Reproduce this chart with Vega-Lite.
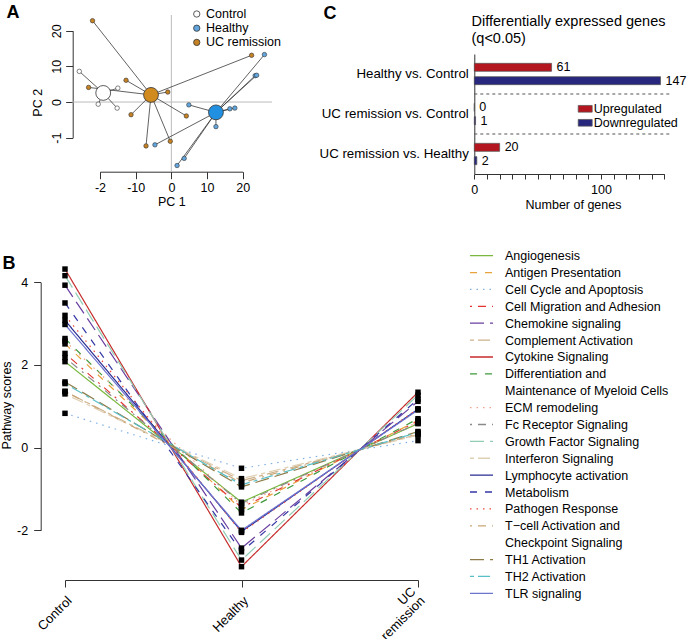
{
  "$schema": "https://vega.github.io/schema/vega-lite/v6.json",
  "width": 689,
  "height": 639,
  "autosize": {"type": "none"},
  "padding": 0,
  "background": "white",
  "config": {
    "font": "Liberation Sans",
    "view": {"stroke": null},
    "axis": {"grid": false, "domainColor": "#333333", "tickColor": "#333333", "labelColor": "#000000", "titleColor": "#000000", "labelFont": "Liberation Sans", "titleFont": "Liberation Sans", "labelFontSize": 12.5, "titleFontSize": 12.5, "titleFontWeight": "normal", "domainWidth": 1, "tickWidth": 1, "labelFlush": false, "labelOverlap": false},
    "legend": {"labelFont": "Liberation Sans", "labelFontSize": 12.5, "labelColor": "#000000"}
  },
  "datasets": {
    "pcaSamples": [
      {"group": "Control", "pc1": -25.8, "pc2": 8.6, "cx": -19.1, "cy": 2.55},
      {"group": "Control", "pc1": -15.0, "pc2": 3.9, "cx": -19.1, "cy": 2.55},
      {"group": "Control", "pc1": -20.5, "pc2": -0.6, "cx": -19.1, "cy": 2.55},
      {"group": "Control", "pc1": -15.2, "pc2": -1.7, "cx": -19.1, "cy": 2.55},
      {"group": "UC remission", "pc1": -22.1, "pc2": 22.8, "cx": -5.7, "cy": 2.0},
      {"group": "UC remission", "pc1": -23.2, "pc2": 4.1, "cx": -5.7, "cy": 2.0},
      {"group": "UC remission", "pc1": -12.7, "pc2": 6.1, "cx": -5.7, "cy": 2.0},
      {"group": "UC remission", "pc1": -11.3, "pc2": -3.55, "cx": -5.7, "cy": 2.0},
      {"group": "UC remission", "pc1": -1.0, "pc2": 2.8, "cx": -5.7, "cy": 2.0},
      {"group": "UC remission", "pc1": 4.2, "pc2": -3.9, "cx": -5.7, "cy": 2.0},
      {"group": "UC remission", "pc1": -0.3, "pc2": -11.0, "cx": -5.7, "cy": 2.0},
      {"group": "UC remission", "pc1": -7.1, "pc2": -12.3, "cx": -5.7, "cy": 2.0},
      {"group": "UC remission", "pc1": 22.5, "pc2": 13.1, "cx": -5.7, "cy": 2.0},
      {"group": "Healthy", "pc1": 26.1, "pc2": 13.3, "cx": 12.5, "cy": -2.9},
      {"group": "Healthy", "pc1": 23.5, "pc2": 7.4, "cx": 12.5, "cy": -2.9},
      {"group": "Healthy", "pc1": 23.9, "pc2": 7.5, "cx": 12.5, "cy": -2.9},
      {"group": "Healthy", "pc1": 4.9, "pc2": -0.8, "cx": 12.5, "cy": -2.9},
      {"group": "Healthy", "pc1": 16.4, "pc2": -1.9, "cx": 12.5, "cy": -2.9},
      {"group": "Healthy", "pc1": 17.8, "pc2": -1.7, "cx": 12.5, "cy": -2.9},
      {"group": "Healthy", "pc1": 12.5, "pc2": -6.9, "cx": 12.5, "cy": -2.9},
      {"group": "Healthy", "pc1": 3.6, "pc2": -15.8, "cx": 12.5, "cy": -2.9},
      {"group": "Healthy", "pc1": 1.6, "pc2": -17.8, "cx": 12.5, "cy": -2.9},
      {"group": "Healthy", "pc1": -4.6, "pc2": -12.0, "cx": 12.5, "cy": -2.9}
    ],
    "pcaCentroids": [
      {"group": "Control", "pc1": -19.1, "pc2": 2.55},
      {"group": "Healthy", "pc1": 12.5, "pc2": -2.9},
      {"group": "UC remission", "pc1": -5.7, "pc2": 2.0}
    ],
    "scores": [
      {"pathway": "Angiogenesis", "condition": "Control", "score": 2.08},
      {"pathway": "Angiogenesis", "condition": "Healthy", "score": -1.32},
      {"pathway": "Angiogenesis", "condition": "UC remission", "score": 0.58},
      {"pathway": "Antigen Presentation", "condition": "Control", "score": 2.51},
      {"pathway": "Antigen Presentation", "condition": "Healthy", "score": -1.5},
      {"pathway": "Antigen Presentation", "condition": "UC remission", "score": 0.66},
      {"pathway": "Cell Cycle and Apoptosis", "condition": "Control", "score": 0.83},
      {"pathway": "Cell Cycle and Apoptosis", "condition": "Healthy", "score": -0.5},
      {"pathway": "Cell Cycle and Apoptosis", "condition": "UC remission", "score": 0.17},
      {"pathway": "Cell Migration and Adhesion", "condition": "Control", "score": 2.28},
      {"pathway": "Cell Migration and Adhesion", "condition": "Healthy", "score": -1.45},
      {"pathway": "Cell Migration and Adhesion", "condition": "UC remission", "score": 0.64},
      {"pathway": "Chemokine signaling", "condition": "Control", "score": 3.93},
      {"pathway": "Chemokine signaling", "condition": "Healthy", "score": -2.43},
      {"pathway": "Chemokine signaling", "condition": "UC remission", "score": 1.12},
      {"pathway": "Complement Activation", "condition": "Control", "score": 1.36},
      {"pathway": "Complement Activation", "condition": "Healthy", "score": -0.8},
      {"pathway": "Complement Activation", "condition": "UC remission", "score": 0.32},
      {"pathway": "Cytokine Signaling", "condition": "Control", "score": 4.32},
      {"pathway": "Cytokine Signaling", "condition": "Healthy", "score": -2.88},
      {"pathway": "Cytokine Signaling", "condition": "UC remission", "score": 1.34},
      {"pathway": "Differentiation and Maintenance of Myeloid Cells", "condition": "Control", "score": 2.64},
      {"pathway": "Differentiation and Maintenance of Myeloid Cells", "condition": "Healthy", "score": -1.58},
      {"pathway": "Differentiation and Maintenance of Myeloid Cells", "condition": "UC remission", "score": 0.7},
      {"pathway": "ECM remodeling", "condition": "Control", "score": 2.58},
      {"pathway": "ECM remodeling", "condition": "Healthy", "score": -1.4},
      {"pathway": "ECM remodeling", "condition": "UC remission", "score": 0.62},
      {"pathway": "Fc Receptor Signaling", "condition": "Control", "score": 2.18},
      {"pathway": "Fc Receptor Signaling", "condition": "Healthy", "score": -1.35},
      {"pathway": "Fc Receptor Signaling", "condition": "UC remission", "score": 0.59},
      {"pathway": "Growth Factor Signaling", "condition": "Control", "score": 4.16},
      {"pathway": "Growth Factor Signaling", "condition": "Healthy", "score": -2.72},
      {"pathway": "Growth Factor Signaling", "condition": "UC remission", "score": 1.27},
      {"pathway": "Interferon Signaling", "condition": "Control", "score": 1.3},
      {"pathway": "Interferon Signaling", "condition": "Healthy", "score": -0.75},
      {"pathway": "Interferon Signaling", "condition": "UC remission", "score": 0.3},
      {"pathway": "Lymphocyte activation", "condition": "Control", "score": 3.08},
      {"pathway": "Lymphocyte activation", "condition": "Healthy", "score": -2.03},
      {"pathway": "Lymphocyte activation", "condition": "UC remission", "score": 0.93},
      {"pathway": "Metabolism", "condition": "Control", "score": 3.5},
      {"pathway": "Metabolism", "condition": "Healthy", "score": -2.52},
      {"pathway": "Metabolism", "condition": "UC remission", "score": 1.17},
      {"pathway": "Pathogen Response", "condition": "Control", "score": 3.2},
      {"pathway": "Pathogen Response", "condition": "Healthy", "score": -2.05},
      {"pathway": "Pathogen Response", "condition": "UC remission", "score": 0.94},
      {"pathway": "T−cell Activation and Checkpoint Signaling", "condition": "Control", "score": 1.36},
      {"pathway": "T−cell Activation and Checkpoint Signaling", "condition": "Healthy", "score": -0.85},
      {"pathway": "T−cell Activation and Checkpoint Signaling", "condition": "UC remission", "score": 0.34},
      {"pathway": "TH1 Activation", "condition": "Control", "score": 1.59},
      {"pathway": "TH1 Activation", "condition": "Healthy", "score": -0.95},
      {"pathway": "TH1 Activation", "condition": "UC remission", "score": 0.39},
      {"pathway": "TH2 Activation", "condition": "Control", "score": 1.55},
      {"pathway": "TH2 Activation", "condition": "Healthy", "score": -0.9},
      {"pathway": "TH2 Activation", "condition": "UC remission", "score": 0.37},
      {"pathway": "TLR signaling", "condition": "Control", "score": 2.98},
      {"pathway": "TLR signaling", "condition": "Healthy", "score": -2.0},
      {"pathway": "TLR signaling", "condition": "UC remission", "score": 0.91}
    ],
    "pathways": [
      {"pathway": "Angiogenesis", "label": "Angiogenesis"},
      {"pathway": "Antigen Presentation", "label": "Antigen Presentation"},
      {"pathway": "Cell Cycle and Apoptosis", "label": "Cell Cycle and Apoptosis"},
      {"pathway": "Cell Migration and Adhesion", "label": "Cell Migration and Adhesion"},
      {"pathway": "Chemokine signaling", "label": "Chemokine signaling"},
      {"pathway": "Complement Activation", "label": "Complement Activation"},
      {"pathway": "Cytokine Signaling", "label": "Cytokine Signaling"},
      {"pathway": "Differentiation and Maintenance of Myeloid Cells", "label": "Differentiation and\nMaintenance of Myeloid Cells"},
      {"pathway": "ECM remodeling", "label": "ECM remodeling"},
      {"pathway": "Fc Receptor Signaling", "label": "Fc Receptor Signaling"},
      {"pathway": "Growth Factor Signaling", "label": "Growth Factor Signaling"},
      {"pathway": "Interferon Signaling", "label": "Interferon Signaling"},
      {"pathway": "Lymphocyte activation", "label": "Lymphocyte activation"},
      {"pathway": "Metabolism", "label": "Metabolism"},
      {"pathway": "Pathogen Response", "label": "Pathogen Response"},
      {"pathway": "T−cell Activation and Checkpoint Signaling", "label": "T−cell Activation and\nCheckpoint Signaling"},
      {"pathway": "TH1 Activation", "label": "TH1 Activation"},
      {"pathway": "TH2 Activation", "label": "TH2 Activation"},
      {"pathway": "TLR signaling", "label": "TLR signaling"}
    ],
    "genes": [
      {"comparison": "Healthy vs. Control", "direction": "Upregulated", "genes": 61},
      {"comparison": "Healthy vs. Control", "direction": "Downregulated", "genes": 147},
      {"comparison": "UC remission vs. Control", "direction": "Upregulated", "genes": 0},
      {"comparison": "UC remission vs. Control", "direction": "Downregulated", "genes": 1},
      {"comparison": "UC remission vs. Healthy", "direction": "Upregulated", "genes": 20},
      {"comparison": "UC remission vs. Healthy", "direction": "Downregulated", "genes": 2}
    ],
    "separators": [
      {"comparison": "UC remission vs. Control"},
      {"comparison": "UC remission vs. Healthy"}
    ]
  },
  "layer": [
    {
      "layer": [
        {
          "data": {"values": [{}]},
          "mark": {"type": "rule", "color": "#BBBBBB", "strokeWidth": 1},
          "encoding": {
            "x": {"datum": 0, "type": "quantitative", "scale": {"domain": [-20, 20], "range": [100, 242.7], "nice": false, "zero": false},
              "axis": {"orient": "bottom", "offset": -467.3, "values": [-20, -10, 0, 10, 20], "labelExpr": "datum.value == -20 ? '-2' : replace(datum.label, '−', '-')", "tickSize": 7, "labelPadding": 3, "title": "PC 1", "titleX": 171.3, "titleY": 29.3, "titleAlign": "center", "titleBaseline": "middle", "titleAngle": 0}},
            "y": {"datum": 24.4, "type": "quantitative", "scale": {"domain": [-10, 20], "range": [137.7, 30.7], "nice": false, "zero": false},
              "axis": {"orient": "left", "offset": -72.7, "values": [-10, 0, 10, 20], "labelExpr": "datum.value == -10 ? '-1' : datum.label", "labelAngle": -90, "labelAlign": "center", "labelBaseline": "bottom", "tickSize": 7, "labelPadding": 2, "title": "PC 2", "titleAngle": -90, "titleX": -35.2, "titleY": 102.3, "titleAlign": "center", "titleBaseline": "middle"}},
            "y2": {"datum": -19.4}
          }
        },
        {
          "data": {"values": [{}]},
          "mark": {"type": "rule", "color": "#BBBBBB", "strokeWidth": 1},
          "encoding": {
            "y": {"datum": 0, "type": "quantitative"},
            "x": {"datum": -27.9, "type": "quantitative"},
            "x2": {"datum": 28.2}
          }
        },
        {
          "data": {"name": "pcaSamples"},
          "mark": {"type": "rule", "color": "#3A3A3A", "strokeWidth": 0.8},
          "encoding": {
            "x": {"field": "pc1", "type": "quantitative"},
            "y": {"field": "pc2", "type": "quantitative"},
            "x2": {"field": "cx"},
            "y2": {"field": "cy"}
          }
        },
        {
          "data": {"name": "pcaSamples"},
          "mark": {"type": "point", "shape": "circle", "filled": true, "size": 20, "stroke": "#333333", "strokeWidth": 0.6, "opacity": 1},
          "encoding": {
            "x": {"field": "pc1", "type": "quantitative"},
            "y": {"field": "pc2", "type": "quantitative"},
            "color": {"field": "group", "type": "nominal", "scale": {"domain": ["Control", "Healthy", "UC remission"], "range": ["#FFFFFF", "#62A5DC", "#C58224"]},
              "legend": {"orient": "none", "legendX": 190.5, "legendY": 7.75, "title": null, "symbolType": "circle", "symbolSize": 40, "symbolStrokeColor": "#333333", "symbolStrokeWidth": 0.8, "symbolOpacity": 1, "labelOffset": 3, "rowPadding": 1.2, "padding": 0, "labelFontSize": 12.5}}
          }
        },
        {
          "data": {"name": "pcaCentroids"},
          "mark": {"type": "point", "shape": "circle", "filled": true, "size": 220, "stroke": "#333333", "strokeWidth": 0.8, "opacity": 1},
          "encoding": {
            "x": {"field": "pc1", "type": "quantitative"},
            "y": {"field": "pc2", "type": "quantitative"},
            "fill": {"field": "group", "type": "nominal", "scale": {"domain": ["Control", "Healthy", "UC remission"], "range": ["#FFFFFF", "#2290E0", "#D08A1E"]}, "legend": null}
          }
        }
      ]
    },
    {
      "data": {"name": "scores"},
      "layer": [
        {
          "mark": {"type": "line", "strokeWidth": 1.2},
          "encoding": {
            "x": {"field": "condition", "type": "nominal", "scale": {"type": "point", "domain": ["Control", "Healthy", "UC remission"], "range": [65, 418], "padding": 0},
              "axis": {"orient": "bottom", "offset": -59, "tickSize": 7, "labelAngle": -45, "labelAlign": "right", "labelBaseline": "top",
                "labelPadding": 7, "labelOffset": 0, "labelFontSize": 13, "labelLineHeight": -13, "labelExpr": "datum.value == 'UC remission' ? ['remission', 'UC\u00a0\u00a0\u00a0\u00a0\u00a0'] : datum.label",
                "title": "B", "titleX": 2, "titleY": -312, "titleAlign": "left", "titleBaseline": "alphabetic", "titleAngle": 0, "titleFontSize": 18, "titleFontWeight": "bold"}},
            "y": {"field": "score", "type": "quantitative", "scale": {"domain": [-2, 4], "range": [530.3, 282.3], "nice": false, "zero": false},
              "axis": {"orient": "left", "offset": -40.7, "values": [-2, 0, 2, 4], "format": "d", "tickSize": 7, "labelPadding": 6, "labelExpr": "replace(datum.label, '−', '-')", "title": "Pathway scores", "titleAngle": -90, "titleX": -34, "titleY": 405, "titleAlign": "center", "titleBaseline": "middle"}},
            "color": {"field": "pathway", "type": "nominal", "legend": null,
              "scale": {"domain": ["Angiogenesis", "Antigen Presentation", "Cell Cycle and Apoptosis", "Cell Migration and Adhesion", "Chemokine signaling", "Complement Activation", "Cytokine Signaling", "Differentiation and Maintenance of Myeloid Cells", "ECM remodeling", "Fc Receptor Signaling", "Growth Factor Signaling", "Interferon Signaling", "Lymphocyte activation", "Metabolism", "Pathogen Response", "T−cell Activation and Checkpoint Signaling", "TH1 Activation", "TH2 Activation", "TLR signaling"],
                "range": ["#78B83E", "#E8A33D", "#80B1E6", "#E3342F", "#6A3FA0", "#CDB18C", "#C62D2D", "#3E9A3B", "#F2A18A", "#8A8A8A", "#91CDB5", "#E0D0B4", "#2A2D92", "#3537A5", "#EF4A3C", "#C9A677", "#8E7B48", "#59BFC7", "#6D74CF"]}},
            "strokeDash": {"field": "pathway", "type": "nominal", "legend": null,
              "scale": {"domain": ["Angiogenesis", "Antigen Presentation", "Cell Cycle and Apoptosis", "Cell Migration and Adhesion", "Chemokine signaling", "Complement Activation", "Cytokine Signaling", "Differentiation and Maintenance of Myeloid Cells", "ECM remodeling", "Fc Receptor Signaling", "Growth Factor Signaling", "Interferon Signaling", "Lymphocyte activation", "Metabolism", "Pathogen Response", "T−cell Activation and Checkpoint Signaling", "TH1 Activation", "TH2 Activation", "TLR signaling"],
                "range": [[1, 0], [7, 8], [1.5, 5], [2, 6, 8, 6], [14, 6], [4, 4, 12, 4], [1, 0], [7, 8], [1.5, 5], [2, 6, 8, 6], [14, 6], [4, 4, 12, 4], [1, 0], [7, 8], [1.5, 5], [2, 6, 8, 6], [14, 6], [4, 4, 12, 4], [1, 0]]}}
          }
        },
        {
          "mark": {"type": "point", "shape": "square", "filled": true, "size": 30, "color": "#000000", "opacity": 1},
          "encoding": {
            "x": {"field": "condition", "type": "nominal"},
            "y": {"field": "score", "type": "quantitative"}
          }
        }
      ]
    },
    {
      "data": {"name": "pathways"},
      "layer": [
        {
          "mark": {"type": "rule", "strokeWidth": 1.3},
          "encoding": {
            "x": {"datum": 0, "type": "quantitative", "scale": {"domain": [0, 1], "range": [470, 493], "nice": false, "zero": false},
              "axis": {"orient": "top", "offset": 0, "domain": false, "ticks": false, "labels": false, "title": "A", "titleX": 6, "titleY": 17, "titleAlign": "left", "titleBaseline": "alphabetic", "titleAngle": 0, "titleFontSize": 18, "titleFontWeight": "bold"}},
            "x2": {"datum": 1},
            "y": {"field": "pathway", "type": "nominal",
              "scale": {"type": "point", "padding": 0, "range": [255.7, 593.3], "domain": ["Angiogenesis", "Antigen Presentation", "Cell Cycle and Apoptosis", "Cell Migration and Adhesion", "Chemokine signaling", "Complement Activation", "Cytokine Signaling", "Differentiation and Maintenance of Myeloid Cells", "gap1", "ECM remodeling", "Fc Receptor Signaling", "Growth Factor Signaling", "Interferon Signaling", "Lymphocyte activation", "Metabolism", "Pathogen Response", "T−cell Activation and Checkpoint Signaling", "gap2", "TH1 Activation", "TH2 Activation", "TLR signaling"]},
              "axis": {"orient": "left", "offset": 0, "domain": false, "ticks": false, "labels": false, "title": "C", "titleX": 323, "titleY": 18, "titleAlign": "left", "titleBaseline": "alphabetic", "titleAngle": 0, "titleFontSize": 18, "titleFontWeight": "bold"}},
            "color": {"field": "pathway", "type": "nominal", "legend": null,
              "scale": {"domain": ["Angiogenesis", "Antigen Presentation", "Cell Cycle and Apoptosis", "Cell Migration and Adhesion", "Chemokine signaling", "Complement Activation", "Cytokine Signaling", "Differentiation and Maintenance of Myeloid Cells", "ECM remodeling", "Fc Receptor Signaling", "Growth Factor Signaling", "Interferon Signaling", "Lymphocyte activation", "Metabolism", "Pathogen Response", "T−cell Activation and Checkpoint Signaling", "TH1 Activation", "TH2 Activation", "TLR signaling"],
                "range": ["#78B83E", "#E8A33D", "#80B1E6", "#E3342F", "#6A3FA0", "#CDB18C", "#C62D2D", "#3E9A3B", "#F2A18A", "#8A8A8A", "#91CDB5", "#E0D0B4", "#2A2D92", "#3537A5", "#EF4A3C", "#C9A677", "#8E7B48", "#59BFC7", "#6D74CF"]}},
            "strokeDash": {"field": "pathway", "type": "nominal", "legend": null,
              "scale": {"domain": ["Angiogenesis", "Antigen Presentation", "Cell Cycle and Apoptosis", "Cell Migration and Adhesion", "Chemokine signaling", "Complement Activation", "Cytokine Signaling", "Differentiation and Maintenance of Myeloid Cells", "ECM remodeling", "Fc Receptor Signaling", "Growth Factor Signaling", "Interferon Signaling", "Lymphocyte activation", "Metabolism", "Pathogen Response", "T−cell Activation and Checkpoint Signaling", "TH1 Activation", "TH2 Activation", "TLR signaling"],
                "range": [[1, 0], [7, 8], [1.5, 5], [2, 6, 8, 6], [14, 6], [4, 4, 12, 4], [1, 0], [7, 8], [1.5, 5], [2, 6, 8, 6], [14, 6], [4, 4, 12, 4], [1, 0], [7, 8], [1.5, 5], [2, 6, 8, 6], [14, 6], [4, 4, 12, 4], [1, 0]]}}
          }
        },
        {
          "mark": {"type": "text", "align": "left", "baseline": "alphabetic", "dx": 12, "dy": 4.5, "fontSize": 12.5, "lineBreak": "\n", "lineHeight": 16.9, "color": "#000000"},
          "encoding": {
            "x": {"datum": 1, "type": "quantitative"},
            "y": {"field": "pathway", "type": "nominal"},
            "text": {"field": "label"}
          }
        }
      ]
    },
    {
      "layer": [
        {
          "data": {"name": "separators"},
          "mark": {"type": "rule", "color": "#555555", "strokeDash": [3, 3], "strokeWidth": 1},
          "encoding": {
            "y": {"field": "comparison", "type": "nominal", "bandPosition": 0,
              "scale": {"type": "band", "domain": ["Healthy vs. Control", "UC remission vs. Control", "UC remission vs. Healthy"], "range": [54, 174], "paddingInner": 0, "paddingOuter": 0},
              "axis": {"orient": "left", "offset": -474.3, "ticks": false, "labelPadding": 6, "labelFontSize": 13.3, "title": ["Differentially expressed genes", "(q<0.05)"], "titleX": -3.3, "titleY": 25, "titleAngle": 0, "titleAlign": "left", "titleBaseline": "alphabetic", "titleFontSize": 14.5, "titleLineHeight": 17}},
            "x": {"datum": 0, "type": "quantitative", "scale": {"domain": [0, 150], "range": [474.3, 664.3], "nice": false, "zero": false},
              "axis": {"orient": "bottom", "offset": -465, "values": [0, 10, 20, 30, 40, 50, 60, 70, 80, 90, 100, 110, 120, 130, 140, 150], "labelExpr": "datum.value % 100 == 0 ? datum.label : ''", "tickSize": 5, "labelPadding": 4, "title": "Number of genes", "titleX": 573, "titleY": 34, "titleAlign": "center", "titleBaseline": "alphabetic", "titleAngle": 0}},
            "x2": {"datum": 156}
          }
        },
        {
          "data": {"name": "genes"},
          "mark": {"type": "bar", "stroke": "#555555", "strokeWidth": 0.7},
          "encoding": {
            "y": {"field": "comparison", "type": "nominal"},
            "yOffset": {"field": "direction", "type": "nominal", "scale": {"type": "band", "domain": ["Upregulated", "Downregulated"], "paddingInner": 0.4, "paddingOuter": 0.7}},
            "x": {"field": "genes", "type": "quantitative"},
            "fill": {"field": "direction", "type": "nominal", "scale": {"domain": ["Upregulated", "Downregulated"], "range": ["#B3161E", "#27277D"]},
              "legend": {"orient": "none", "legendX": 577.7, "legendY": 101.3, "title": null, "symbolType": "M-1,-0.48H1V0.48H-1Z", "symbolSize": 196, "symbolStrokeColor": "#555555", "symbolStrokeWidth": 0.7, "symbolOpacity": 1, "labelOffset": 1, "rowPadding": -1.3, "padding": 0, "labelFontSize": 12.5}}
          }
        },
        {
          "data": {"name": "genes"},
          "mark": {"type": "text", "align": "left", "baseline": "middle", "dx": 5, "fontSize": 12.5, "color": "#000000"},
          "encoding": {
            "y": {"field": "comparison", "type": "nominal"},
            "yOffset": {"field": "direction", "type": "nominal"},
            "x": {"field": "genes", "type": "quantitative"},
            "text": {"field": "genes", "type": "quantitative"}
          }
        }
      ]
    }
  ],
  "resolve": {
    "scale": {"x": "independent", "y": "independent", "fill": "independent", "color": "independent", "strokeDash": "independent", "yOffset": "independent"},
    "axis": {"x": "independent", "y": "independent"},
    "legend": {"fill": "independent", "color": "independent"}
  }
}
